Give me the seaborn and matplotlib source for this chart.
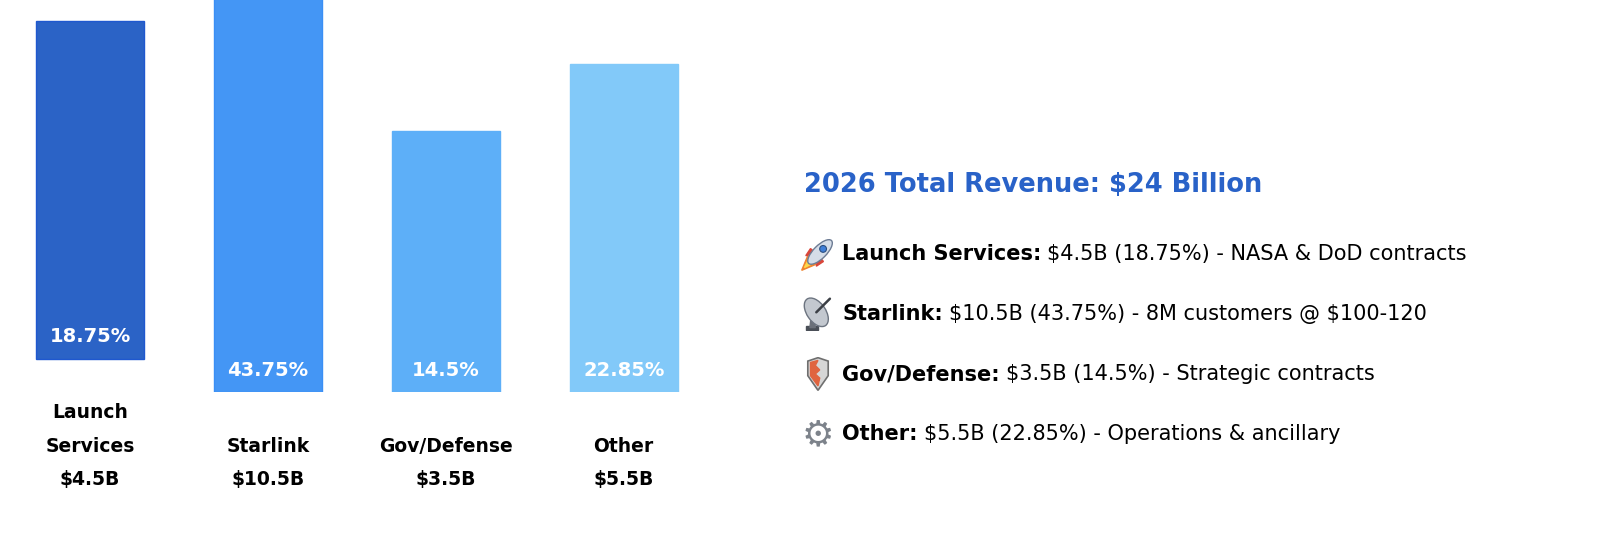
import numpy as np
import pandas as pd
import matplotlib
matplotlib.use('Agg')
import matplotlib.pyplot as plt
from matplotlib.patches import Ellipse, Polygon, Circle, Rectangle
import seaborn as sns

# --- data ---
segments = ['Launch\nServices', 'Starlink', 'Gov/Defense', 'Other']
revenue_b = [4.5, 10.5, 3.5, 5.5]
share_pct = [18.75, 43.75, 14.5, 22.85]
bar_level = [338, 420, 261, 328]   # drawn bar height as shown in the source (Starlink runs off the top)
notes = ['NASA & DoD contracts', '8M customers @ $100-120',
         'Strategic contracts', 'Operations & ancillary']
total_b = 24
year = 2026

bar_colors = ['#2B63C6', '#4496F5', '#5DAFF8', '#82C9F9']
edge_colors = ['#1F58CF', '#3A8FF5', '#5DAFF8', '#82C9F9']
title_color = '#2962C8'

W, H = 1600, 551
LINE = 33.5  # label line step in px


def fx(px):
    return px / W


def fy(px_from_top):
    return 1 - px_from_top / H


def draw_icon(fig, kind, cx, cy, size=34):
    ia = fig.add_axes([fx(cx - size / 2), fy(cy + size / 2), size / W, size / H])
    ia.set_xlim(0, 1)
    ia.set_ylim(0, 1)
    ia.axis('off')
    if kind == 'rocket':
        ia.add_patch(Polygon([[0.02, 0.02], [0.2, 0.45], [0.45, 0.2]], color='#f0842f'))
        ia.add_patch(Polygon([[0.1, 0.1], [0.24, 0.38], [0.38, 0.24]], color='#ffd84a'))
        ia.add_patch(Polygon([[0.14, 0.45], [0.28, 0.66], [0.44, 0.52]], color='#d9463b'))
        ia.add_patch(Polygon([[0.45, 0.14], [0.66, 0.28], [0.52, 0.44]], color='#d9463b'))
        ia.add_patch(Ellipse((0.56, 0.56), 0.95, 0.38, angle=45, facecolor='#d5dde8',
                             edgecolor='#6d7c94', lw=1))
        ia.add_patch(Circle((0.65, 0.65), 0.1, facecolor='#3f7fd8', edgecolor='#2c4f80', lw=0.8))
    elif kind == 'satellite':
        ia.add_patch(Rectangle((0.15, 0.02), 0.35, 0.12, color='#4a4f57'))
        ia.add_patch(Polygon([[0.26, 0.1], [0.42, 0.1], [0.4, 0.42], [0.3, 0.42]], color='#6b7079'))
        ia.add_patch(Ellipse((0.45, 0.55), 0.95, 0.55, angle=-55, facecolor='#c3c8cf',
                             edgecolor='#6c7480', lw=1))
        ia.plot([0.45, 0.85], [0.55, 0.95], color='#3b3f45', lw=1.8)
    elif kind == 'shield':
        ia.add_patch(Polygon([[0.2, 0.88], [0.5, 0.98], [0.8, 0.88], [0.8, 0.45],
                              [0.5, 0.02], [0.2, 0.45]], facecolor='#d6d6d6',
                             edgecolor='#6f6f6f', lw=1.2))
        ia.add_patch(Polygon([[0.28, 0.84], [0.5, 0.9], [0.42, 0.75], [0.55, 0.62],
                              [0.42, 0.5], [0.55, 0.38], [0.5, 0.15], [0.28, 0.45]],
                             color='#e0643f'))
    else:
        ia.text(0.5, 0.45, '\u2699', ha='center', va='center', fontsize=26,
                color='#7d838b', family='DejaVu Sans')


sns.set_theme(style='white')
plt.rcParams['font.family'] = ['DejaVu Sans']

df = pd.DataFrame({'segment': segments, 'level': bar_level})

fig = plt.figure(figsize=(W / 100, H / 100), dpi=100)
spacing = 177.9
base_px = 392
ax = fig.add_axes([fx(90 - spacing / 2), fy(base_px), fx(4 * spacing), base_px / H])
sns.barplot(data=df, x='segment', y='level', hue='segment', palette=bar_colors,
            width=0.607, saturation=1, legend=False, ax=ax)
ax.set_xlim(-0.5, 3.5)
ax.set_ylim(0, base_px)
ax.axis('off')

for i, (name, val, pct) in enumerate(zip(segments, revenue_b, share_pct)):
    lines = name.split('\n') + [f'${val:g}B']
    lift = (len(lines) - 2) * LINE  # taller label pushes the bar up
    patch = ax.patches[i]
    patch.set_y(lift)
    patch.set_edgecolor(edge_colors[i])
    patch.set_linewidth(1)
    ax.text(i, lift + 22, f'{pct:g}%', ha='center', va='center', color='white',
            fontsize=14, fontweight='bold', parse_math=False)
    for k, line in enumerate(reversed(lines)):
        ax.text(i, -88 + LINE * k, line, ha='center', va='center', color='black',
                fontsize=13.5, fontweight='bold', clip_on=False, parse_math=False)

# --- summary panel ---
fig.text(fx(804), fy(185), f'{year} Total Revenue: ${total_b} Billion', fontsize=18.5,
         fontweight='bold', color=title_color, va='center', parse_math=False)

renderer = fig.canvas.get_renderer()
icons = ['rocket', 'satellite', 'shield', 'gear']
for i, (name, val, pct, note) in enumerate(zip(segments, revenue_b, share_pct, notes)):
    y = 254 + 60 * i
    draw_icon(fig, icons[i], 818, y)
    t = fig.text(fx(842), fy(y), name.replace('\n', ' ') + ':', fontsize=15,
                 fontweight='bold', color='black', va='center', parse_math=False)
    bb = t.get_window_extent(renderer)
    fig.text(fx(bb.x1 + 6), fy(y), f'${val:g}B ({pct:g}%) - {note}', fontsize=15,
             color='black', va='center', parse_math=False)

fig.savefig('out.png', dpi=100)
